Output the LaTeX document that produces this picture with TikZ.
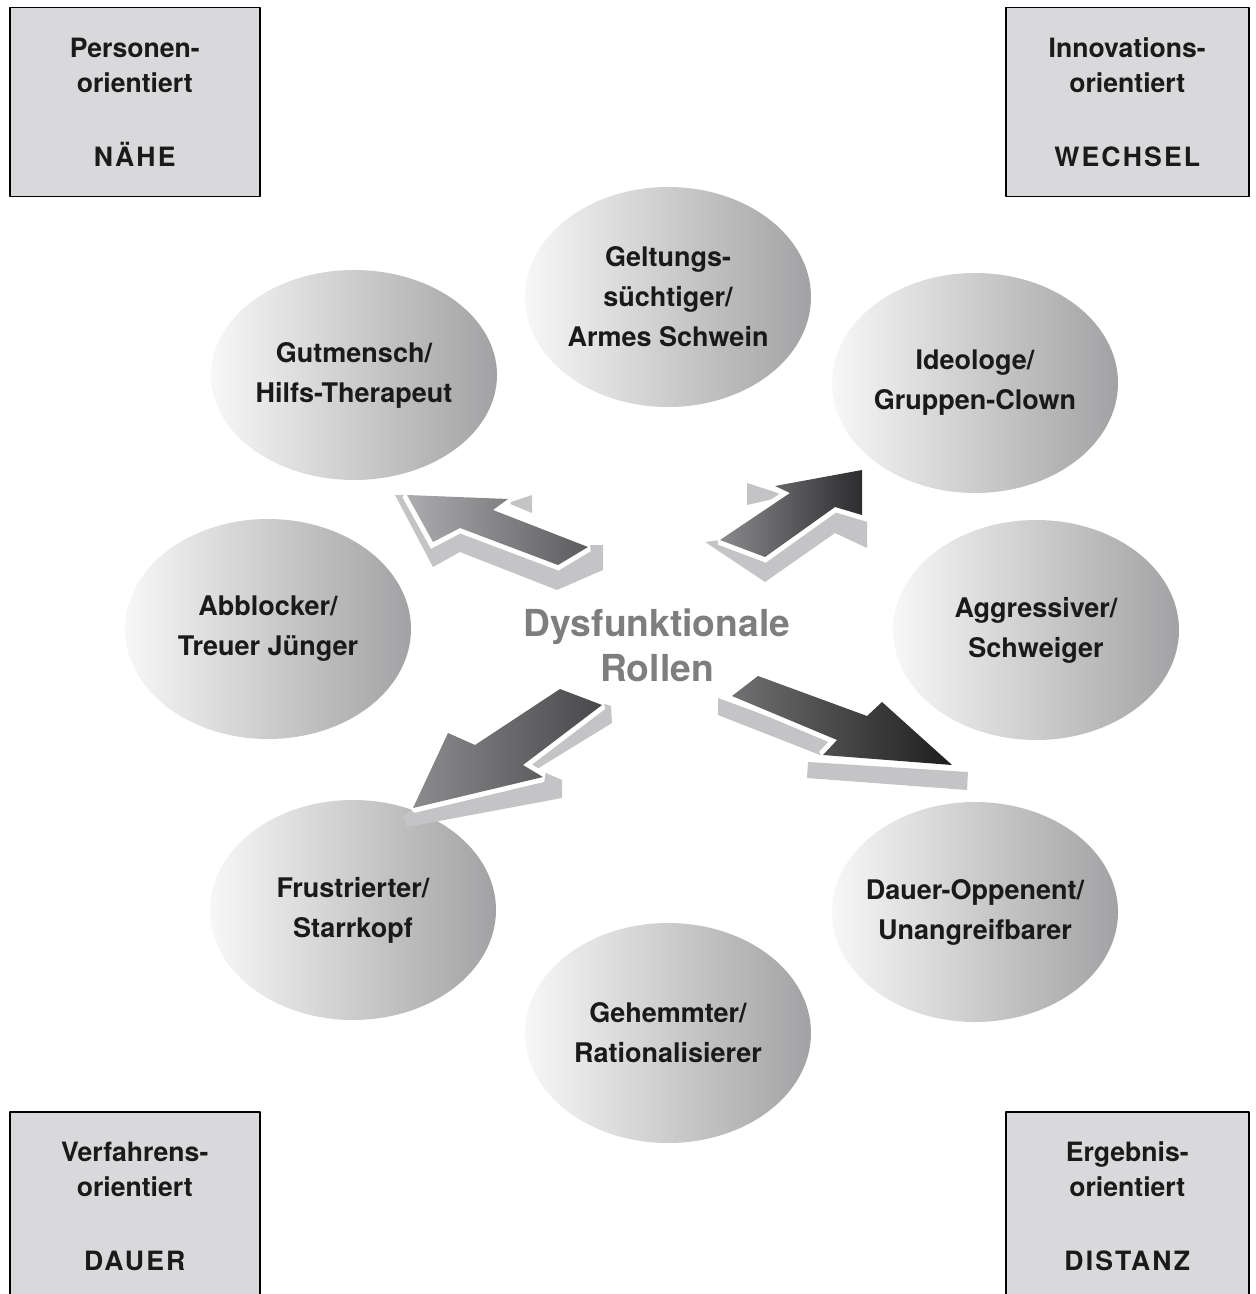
\documentclass[tikz,border=0pt]{standalone}
\usepackage{fontspec}
\setmainfont{TeX Gyre Heros}
\usetikzlibrary{shapes.geometric}
\definecolor{boxgray}{HTML}{D9D9DB}
\definecolor{shadowgray}{HTML}{C4C4C6}
\definecolor{inkgray}{HTML}{1A1A1A}
\definecolor{titlegray}{HTML}{7E7E80}
\definecolor{ellleft}{HTML}{F7F7F7}
\definecolor{ellright}{HTML}{A2A2A4}
\newcommand{\spacedcaps}[1]{{\addfontfeature{LetterSpace=8}#1}}
\tikzset{
	role/.style={ellipse, minimum width=143pt, minimum height=110pt,
		inner xsep=-45pt, inner ysep=-20pt,
		left color=ellleft, right color=ellright, align=center, text=inkgray,
		font=\fontsize{13.5pt}{20pt}\selectfont\bfseries},
	corner/.style={draw=black, line width=0.75pt, fill=boxgray, anchor=north west,
		minimum height=94.5pt, inner sep=0pt, align=center, text=inkgray,
		font=\fontsize{13.3pt}{17.5pt}\selectfont\bfseries},
	shadowface/.style={fill=shadowgray},
	arrowbody/.style={preaction={draw=white, line width=5pt, line join=miter, miter limit=2}}
}

\begin{document}
\begin{tikzpicture}[x=0.5pt, y=-0.5pt, line join=round]
	\useasboundingbox (0,0) rectangle (1255,1294);
	% the eight roles
	\node[role] (gel) at (668,297) {Geltungs-\\süchtiger/\\Armes Schwein};
	\node[role] (ideo) at (975,383) {Ideologe/\\Gruppen-Clown};
	\node[role, minimum height=105pt] (gut) at (354,375) {Gutmensch/\\Hilfs-Therapeut};
	\node[role] (abb) at (268,629) {Abblocker/\\Treuer Jünger};
	\node[role] (agg) at (1036,630) {Aggressiver/\\Schweiger};
	\node[role] (fru) at (353,910) {Frustrierter/\\Starrkopf};
	\node[role] (dau) at (975,912) {Dauer-Oppenent/\\Unangreifbarer};
	\node[role] (geh) at (668,1033) {Gehemmter/\\Rationalisierer};

	% corner boxes
	\node[corner, minimum width=125pt] (nah) at (9,7)
		{Personen-\\orientiert\\[19.5pt]\spacedcaps{NÄHE}};
	\node[corner, minimum width=121.5pt] (wech) at (1005,7)
		{Innovations-\\orientiert\\[19.5pt]\spacedcaps{WECHSEL}};
	\node[corner, minimum width=125pt] (dauer) at (9,1111)
		{Verfahrens-\\orientiert\\[19.5pt]\spacedcaps{DAUER}};
	\node[corner, minimum width=121.5pt] (dist) at (1005,1111)
		{Ergebnis-\\orientiert\\[19.5pt]\spacedcaps{DISTANZ}};

	% arrow to the upper left
	\fill[shadowface] (395,495) -- (433,567) -- (460,552) -- (557,590) -- (603,570)
		-- (603,545) -- (588,545) -- (493,510) -- (508,499) -- (407,495) -- cycle;
	\fill[shadowface] (508,503) -- (532,495) -- (532,513) -- cycle;
	\path[arrowbody, left color={rgb,255:red,172;green,172;blue,174}, right color={rgb,255:red,92;green,92;blue,94}]
		(407,495) -- (508,499) -- (493,510) -- (588,547) -- (558,565) -- (460,528) -- (433,542) -- cycle;

	% arrow to the upper right
	\fill[shadowface] (747,483) -- (778,493) -- (782,497) -- (747,505) -- cycle;
	\fill[shadowface] (705,542) -- (765,582) -- (835,533) -- (867,548) -- (867,518)
		-- (862,515) -- (835,507) -- (765,557) -- (720,540) -- cycle;
	\path[arrowbody, left color={rgb,255:red,138;green,138;blue,140}, right color={rgb,255:red,44;green,44;blue,46}]
		(720,540) -- (790,493) -- (775,486) -- (862,470) -- (862,515) -- (835,507) -- (765,557) -- cycle;

	% arrow to the lower left
	\fill[shadowface] (602,703) -- (611,706) -- (612,723) -- (537,769) -- (562,780)
		-- (562,798) -- (407,827) -- (403,817) -- (413,808) -- (543,777) -- (523,765) -- cycle;
	\path[arrowbody, left color={rgb,255:red,140;green,140;blue,142}, right color={rgb,255:red,72;green,72;blue,74}]
		(560,689) -- (602,705) -- (523,765) -- (543,777) -- (413,808) -- (448,733) -- (475,745) -- cycle;

	% arrow to the lower right
	\fill[shadowface] (718,698) -- (835,741) -- (820,755) -- (718,715) -- cycle;
	\fill[shadowface] (808,762) -- (968,772) -- (967,790) -- (807,778) -- cycle;
	\path[arrowbody, left color={rgb,255:red,112;green,112;blue,114}, right color={rgb,255:red,30;green,30;blue,30}]
		(758,676) -- (867,716) -- (882,702) -- (952,765) -- (823,755) -- (837,740) -- (732,696) -- cycle;

	% title in the middle
	\node[align=center, text=titlegray, font=\fontsize{18.6pt}{22.5pt}\selectfont\bfseries]
		(title) at (657,645) {Dysfunktionale\\Rollen};
\end{tikzpicture}
\end{document}
